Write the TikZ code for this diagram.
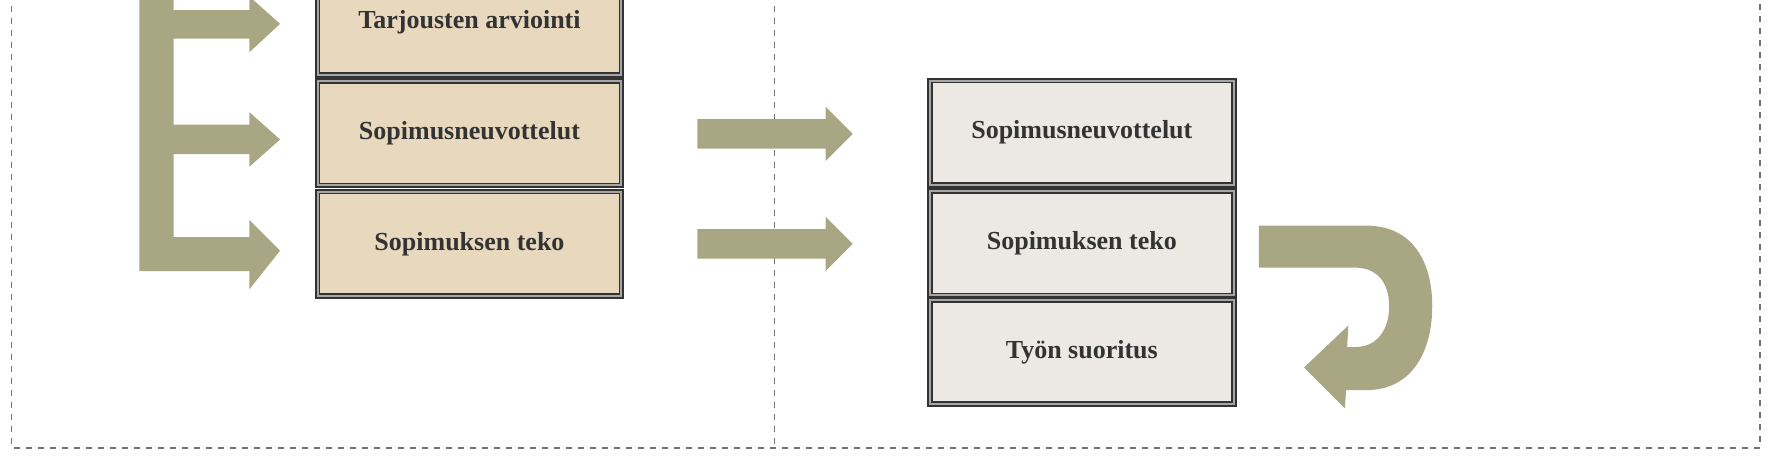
\documentclass[tikz,border=0pt]{standalone}
\usepackage{fontspec}
\setmainfont{Liberation Serif}
\begin{document}
\begin{tikzpicture}[x=0.567pt,y=-0.567pt,
  box/.style={draw=black!80,double=black!35,double distance=1pt,line width=0.9pt,minimum width=268*0.567pt,minimum height=92*0.567pt,inner sep=0pt,font=\bfseries\fontsize{13}{15}\selectfont,text=black!80},
  tan/.style={box,fill=tanc},
  gry/.style={box,fill=gryc},
  arr/.style={fill=arrc,draw=none},
  frame/.style={draw=black!55,dashed,line width=0.8pt}]
\definecolor{tanc}{HTML}{E8D9BE}
\definecolor{gryc}{HTML}{ECE9E4}
\definecolor{arrc}{HTML}{A9A783}
\useasboundingbox (0,0) rectangle (1563.5,409.2);
\clip (0,0) rectangle (1563.5,409.2);
% frames
\coordinate (ftl) at (10,-5); \coordinate (fbl) at (10,395);
\coordinate (ftm) at (683,-5); \coordinate (fbm) at (683,395);
\coordinate (ftr) at (1552,-5); \coordinate (fbr) at (1552,395);
\draw[frame] (ftl) -- (fbl) -- (fbr) -- (ftr);
\draw[frame] (ftm) -- (fbm);
% left stack
\node[tan] (l1) at (414,20) {Tarjousten arviointi};
\node[tan] (l2) at (414,117.5) {Sopimusneuvottelut};
\node[tan] (l3) at (414,215) {Sopimuksen teko};
% right stack
\node[gry] (r1) at (954,117) {Sopimusneuvottelut};
\node[gry] (r2) at (954,214.5) {Sopimuksen teko};
\node[gry] (r3) at (954,310.5) {Työn suoritus};
% E arrow
\fill[arr] (123,-10) -- (153,-10) -- (153,9) -- (220,9) -- (220,-3) -- (247,21) -- (220,46) -- (220,34) -- (153,34)
  -- (153,110) -- (220,110) -- (220,99) -- (247,123) -- (220,147) -- (220,136) -- (153,136)
  -- (153,209) -- (220,209) -- (220,194) -- (247,221) -- (220,255) -- (220,239) -- (123,239) -- cycle;
% middle arrows
\fill[arr] (615,105) -- (728,105) -- (728,94) -- (752,118) -- (728,142) -- (728,131) -- (615,131) -- cycle;
\fill[arr] (615,202) -- (728,202) -- (728,191) -- (752,215) -- (728,239) -- (728,228) -- (615,228) -- cycle;
% U-turn arrow
\fill[arr] (1110,199) -- (1205,199) .. controls (1245,199) and (1263,230) .. (1263,270)
  .. controls (1263,310) and (1245,344) .. (1205,344) -- (1187,344) -- (1186,360) -- (1150,324) -- (1189,287)
  -- (1188,306) -- (1195,306) .. controls (1215,306) and (1225,290) .. (1225,270)
  .. controls (1225,250) and (1215,236) .. (1195,236) -- (1110,236) -- cycle;
\end{tikzpicture}
\end{document}
